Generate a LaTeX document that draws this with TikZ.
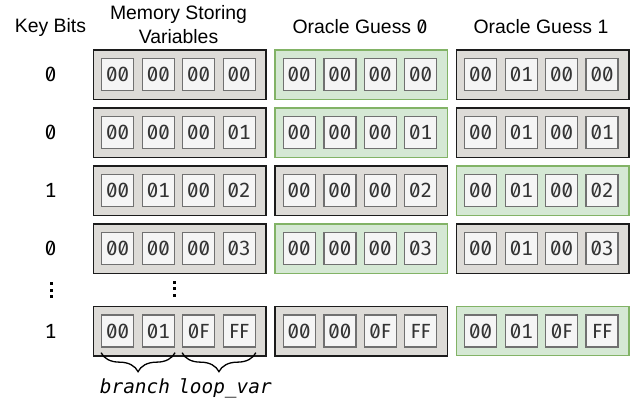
\documentclass[tikz,border=0pt]{standalone}
\usepackage{fontspec}
\setmainfont{Liberation Sans}
\newfontfamily\codefont{DejaVu Sans Mono}
\newfontfamily\digitfont[Numbers={Monospaced,SlashedZero}]{Fira Sans}
\usetikzlibrary{decorations.pathreplacing}

\definecolor{regfill}{RGB}{221,219,215}
\definecolor{regline}{RGB}{28,28,28}
\definecolor{hitfill}{RGB}{213,232,212}
\definecolor{hitline}{RGB}{130,179,102}
\definecolor{cellfill}{RGB}{245,245,245}
\definecolor{cellline}{RGB}{112,112,112}
\definecolor{celltext}{RGB}{51,51,51}

\begin{document}
\begin{tikzpicture}[x=1pt,y=-1pt,
  lbl/.style={inner sep=0pt, font=\fontsize{19.4}{23.4}\selectfont},
  keybit/.style={inner sep=0pt, font=\digitfont\fontsize{20.5}{22}\selectfont},
  reg/.style={draw=regline, fill=regfill, line width=1.4pt, minimum width=172.6pt, minimum height=49.6pt, inner sep=0pt},
  hit/.style={reg, draw=hitline, fill=hitfill, line width=1.2pt},
  cell/.style={draw=cellline, fill=cellfill, line width=1.3pt, minimum width=32pt, minimum height=32pt, inner sep=0pt,
    text=celltext, font=\digitfont\fontsize{20.5}{22}\selectfont},
  brace/.style={decorate, decoration={brace, amplitude=19pt}, line width=1.3pt},
  tag/.style={inner sep=0pt, font=\codefont\itshape\fontsize{19.4}{22}\selectfont, text=black},
  dot/.style={fill=black}
]
\useasboundingbox (0,0) rectangle (631,400);

% column headings
\node[lbl, anchor=base] (hkey) at (50.5,32) {Key Bits};
\node[lbl, anchor=base, align=center] (hmem) at (178.5,43.3) {Memory Storing\\Variables};
\node[lbl, anchor=base] (hg0) at (360,33.3) {Oracle Guess {\digitfont 0}};
\node[lbl, anchor=base] (hg1) at (541,33.3) {Oracle Guess 1};

% one row per key bit: memory registers and the two oracle guesses
\foreach \r/\yc/\key/\cc/\dd in {1/74.7/0/00/00, 2/132.7/0/00/01, 3/190.7/1/00/02, 4/248.7/0/00/03, 5/331/1/0F/FF} {
  \ifnum\key=0 \def\gzs{hit}\def\gos{reg}\else\def\gzs{reg}\def\gos{hit}\fi
  \node[keybit] (k\r) at (50.5,\yc) {\key};
  \node[reg] (m\r) at (179.7,\yc) {};
  \node[\gzs] (g0\r) at (361.2,\yc) {};
  \node[\gos] (g1\r) at (542.6,\yc) {};
  \foreach \col/\bb in {m/0\key, g0/00, g1/01} {
    \node[cell] (\col\r-1) at ([xshift=-62pt]\col\r.center) {00};
    \node[cell] (\col\r-2) at ([xshift=-21.3pt]\col\r.center) {\bb};
    \node[cell] (\col\r-3) at ([xshift=19pt]\col\r.center) {\cc};
    \node[cell] (\col\r-4) at ([xshift=59.5pt]\col\r.center) {\dd};
  }
}

% vertical ellipses between the rows
\foreach \yy in {283.5,290,296.5} {
  \fill[dot] (50.2,\yy-1.5) rectangle (53.2,\yy+1.5);
}
\foreach \yy in {282,288.5,295} {
  \fill[dot] (172.8,\yy-1.5) rectangle (175.8,\yy+1.5);
}

% fields of the last memory value
\draw[brace] ([yshift=-5pt]m5-2.south east) -- ([yshift=-5pt]m5-1.south west);
\draw[brace] ([yshift=-5pt]m5-4.south east) -- ([yshift=-5pt]m5-3.south west);
\node[tag, anchor=base] (tb) at (135,393) {branch};
\node[tag, anchor=base] (tl) at (225,393) {loop\_var};
\end{tikzpicture}
\end{document}
